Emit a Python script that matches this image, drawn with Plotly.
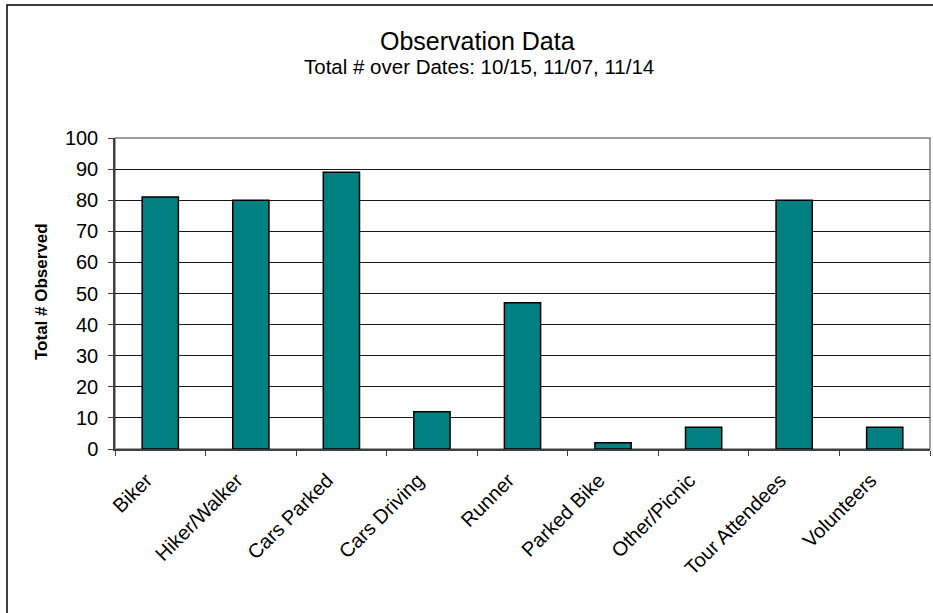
import plotly.graph_objects as go

categories = ["Biker", "Hiker/Walker", "Cars Parked", "Cars Driving", "Runner",
              "Parked Bike", "Other/Picnic", "Tour Attendees", "Volunteers"]
totals = [81, 80, 89, 12, 47, 2, 7, 80, 7]
y_ticks = list(range(0, 101, 10))

W, H = 933, 613
L, R, T, B = 115, 3, 138, 164
pw, ph = W - L - R, H - T - B

def px(x):
    return (x - L) / pw

def py(y):
    return (H - B - y) / ph

font = "Arial, Liberation Sans, sans-serif"

fig = go.Figure(go.Bar(
    x=categories, y=totals, width=0.4,
    marker=dict(color="#008080", line=dict(color="#000000", width=1.5)),
))

fig.update_layout(
    width=W, height=H,
    margin=dict(l=L, r=R, t=T, b=B),
    paper_bgcolor="white", plot_bgcolor="white",
    showlegend=False,
    font=dict(family=font, color="black", size=20),
)

fig.update_xaxes(
    type="category", tickangle=-45, tickson="boundaries",
    ticks="outside", ticklen=5, tickcolor="#404040",
    showline=True, linecolor="#404040", linewidth=1.5,
    tickfont=dict(size=20, family=font, color="black"),
    ticklabelstandoff=10, ticklabelshift=-14,
    showgrid=False,
)
fig.update_yaxes(
    range=[0, 100], tickvals=y_ticks, ticks="outside", ticklen=5,
    tickcolor="#404040", showline=True, linecolor="#404040", linewidth=1.5,
    showgrid=True, gridcolor="#1a1a1a", gridwidth=1, zeroline=False,
    tickfont=dict(size=20, family=font, color="black"),
    ticklabelstandoff=6,
)

# plot area border (top/right) and outer chart border
fig.add_shape(type="rect", xref="paper", yref="paper", x0=0, x1=1, y0=0, y1=1,
              line=dict(color="#808080", width=1.5), layer="below")
fig.add_shape(type="rect", xref="paper", yref="paper",
              x0=px(7), x1=px(960), y0=py(640), y1=py(5),
              line=dict(color="#000000", width=1.5))

fig.add_annotation(text="Observation Data", xref="paper", yref="paper",
                   x=px(477), y=py(41), xanchor="center", yanchor="middle",
                   showarrow=False, font=dict(size=25, family=font, color="black"))
fig.add_annotation(text="Total # over Dates: 10/15, 11/07, 11/14", xref="paper", yref="paper",
                   x=px(479), y=py(66), xanchor="center", yanchor="middle",
                   showarrow=False, font=dict(size=20.5, family=font, color="black"))
fig.add_annotation(text="<b>Total # Observed</b>", xref="paper", yref="paper",
                   x=px(41), y=py(292), xanchor="center", yanchor="middle",
                   showarrow=False, textangle=-90,
                   font=dict(size=17, family=font, color="black"))

fig.write_html("out.html", config={"displayModeBar": False},
               post_script="document.body.style.margin='0px';")
